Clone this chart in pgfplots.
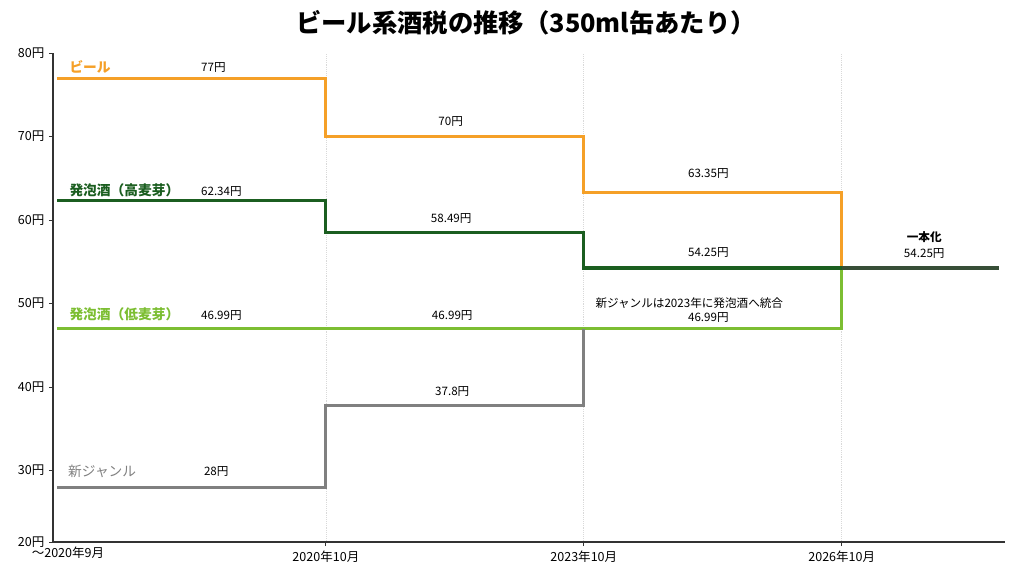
\documentclass[border=0pt]{standalone}
\usepackage{pgfplots}
\pgfplotsset{compat=1.18}
\usepackage{fontspec}
\setmainfont{Noto Sans CJK JP}

\definecolor{beer}{RGB}{245,160,40}
\definecolor{hiMalt}{RGB}{27,94,32}
\definecolor{loMalt}{RGB}{124,190,50}
\definecolor{newGenre}{RGB}{128,128,128}
\definecolor{unified}{RGB}{55,78,55}

\begin{document}
\begin{tikzpicture}
\begin{axis}[
  name=ax,
  scale only axis,
  width=714pt, height=366.75pt,
  xmin=-0.058, xmax=3.633,
  ymin=21.44, ymax=80,
  axis x line=bottom, axis y line=left,
  axis line style={-, line width=0.9pt, black!80},
  tick align=outside,
  major tick length=3pt,
  tick style={line width=0.7pt, black!80},
  xtick={1,2,3},
  xticklabels={2020年10月, 2023年10月, 2026年10月},
  extra x ticks={0},
  extra x tick labels={〜2020年9月},
  extra x tick style={grid=none, major tick length=0pt},
  ytick={21.44,30,40,50,60,70,80},
  yticklabels={20円,30円,40円,50円,60円,70円,80円},
  ymajorgrids=false,
  xmajorgrids,
  grid style={densely dotted, gray!30, line width=0.5pt},
  ticklabel style={font=\fontsize{9.4pt}{10pt}\selectfont, black},
  title={\textbf{ビール系酒税の推移（350ml缶あたり）}},
  title style={font=\fontsize{19pt}{20pt}\selectfont, anchor=center, at={(0.497,1)}, yshift=17pt},
  clip=false,
  every axis plot/.append style={line width=2.3pt, const plot, mark=none},
]
% step lines (value held until next date)
\addplot[color=beer] coordinates {(-0.042,77) (1,70) (2,63.35) (3,54.25)};
\addplot[color=loMalt] coordinates {(-0.042,46.99) (1,46.99) (2,46.99) (3,54.25)};
\addplot[color=hiMalt] coordinates {(-0.042,62.34) (1,58.49) (2,54.25) (3,54.25)};
\addplot[color=newGenre] coordinates {(-0.042,28) (1,37.8) (2,46.99)};
\addplot[color=unified] coordinates {(3,54.25) (3.61,54.25)};

% series names
\begin{scope}[every node/.style={anchor=west, inner xsep=0pt, font=\fontsize{10.3pt}{11pt}\selectfont\bfseries}]
\node[text=beer] at (axis cs:0.005,78.3) {ビール};
\node[text=hiMalt] at (axis cs:0.005,63.6) {発泡酒（高麦芽）};
\node[text=loMalt] at (axis cs:0.005,48.74) {発泡酒（低麦芽）};
\node[text=newGenre, font=\fontsize{10.3pt}{11pt}\selectfont] at (axis cs:0.0,29.94) {新ジャンル};
\end{scope}

% value labels
\begin{scope}[every node/.style={anchor=center, font=\fontsize{8.7pt}{10pt}\selectfont}]
\node at (axis cs:0.564,78.3) {77円};
\node at (axis cs:0.595,63.47) {62.34円};
\node at (axis cs:0.595,48.62) {46.99円};
\node at (axis cs:0.575,29.94) {28円};
\node at (axis cs:1.484,71.74) {70円};
\node at (axis cs:1.486,60.24) {58.49円};
\node at (axis cs:1.49,48.62) {46.99円};
\node at (axis cs:1.49,39.52) {37.8円};
\node at (axis cs:2.483,65.63) {63.35円};
\node at (axis cs:2.483,56.17) {54.25円};
\node at (axis cs:2.409,50.06) {新ジャンルは2023年に発泡酒へ統合};
\node at (axis cs:2.483,48.38) {46.99円};
\node[font=\fontsize{8.7pt}{10pt}\selectfont\bfseries] at (axis cs:3.32,57.96) {一本化};
\node at (axis cs:3.32,56.05) {54.25円};
\end{scope}
\end{axis}
\path[use as bounding box] (ax.south west) ++(-39.75pt,-25.5pt) rectangle ++(768pt,432pt);
\end{tikzpicture}
\end{document}
